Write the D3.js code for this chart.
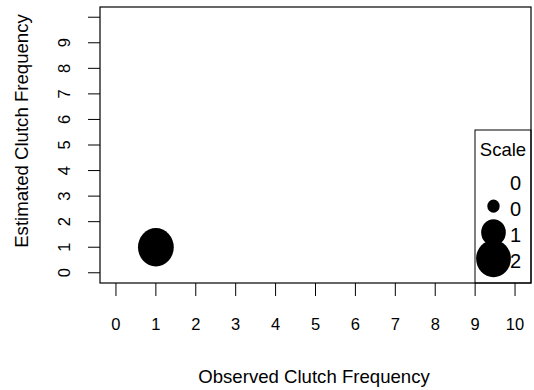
<!DOCTYPE html>
<html>
<head>
<meta charset="utf-8">
<script src="https://cdn.jsdelivr.net/npm/d3@7"></script>
<style>
  html, body { margin: 0; padding: 0; background: #fff; }
  svg { display: block; font-family: "Liberation Sans", Arial, Helvetica, sans-serif; }
</style>
</head>
<body>
<script>
// ---- data ----
const observed = [1];
const estimated = [1];
const counts = [2];
const xTicks = [0, 1, 2, 3, 4, 5, 6, 7, 8, 9, 10];
const yTicks = [0, 1, 2, 3, 4, 5, 6, 7, 8, 9, 10];
const yTickLabels = ["0", "1", "2", "3", "4", "5", "6", "7", "8", "9", ""];
const legendValues = [0, 0.25, 1, 2];
const legendLabels = ["0", "0", "1", "2"];

const W = 534, H = 390;
const svg = d3.select("body").append("svg").attr("width", W).attr("height", H);

const x = d3.scaleLinear().domain([-0.4, 10.4]).range([100, 531]);
const y = d3.scaleLinear().domain([-0.4, 10.4]).range([283, 7]);
const r = d3.scaleSqrt().domain([0, 2]).range([0, 17.4]);
const aspect = 1.07;

// points
svg.append("g").selectAll("ellipse").data(observed).join("ellipse")
  .attr("cx", (d, i) => x(d))
  .attr("cy", (d, i) => y(estimated[i]))
  .attr("rx", (d, i) => r(counts[i]) + 0.5)
  .attr("ry", (d, i) => (r(counts[i]) + 0.5) * aspect)
  .attr("fill", "#000");

// x axis ticks
const xa = svg.append("g");
xa.selectAll("line").data(xTicks).join("line")
  .attr("x1", d => x(d)).attr("x2", d => x(d))
  .attr("y1", 283).attr("y2", 296)
  .attr("stroke", "#000").attr("stroke-width", 1);
xa.selectAll("text").data(xTicks).join("text")
  .attr("x", d => x(d)).attr("y", 330)
  .attr("text-anchor", "middle").attr("font-size", 16.5)
  .text(d => d);

// y axis ticks
const ya = svg.append("g");
ya.selectAll("line").data(yTicks).join("line")
  .attr("x1", 88).attr("x2", 100)
  .attr("y1", d => y(d)).attr("y2", d => y(d))
  .attr("stroke", "#000").attr("stroke-width", 1);
ya.selectAll("text").data(yTicks).join("text")
  .attr("transform", d => `translate(70,${y(d)}) rotate(-90)`)
  .attr("text-anchor", "middle").attr("font-size", 16.5)
  .text((d, i) => yTickLabels[i]);

// legend
const lg = svg.append("g");
lg.append("rect").attr("x", 475).attr("y", 130).attr("width", 56).attr("height", 153)
  .attr("fill", "#fff").attr("stroke", "#000").attr("stroke-width", 1);
lg.append("text").attr("x", 503).attr("y", 156).attr("text-anchor", "middle")
  .attr("font-size", 18.5).text("Scale");
const rowY = i => 180 + 26.2 * i;
lg.selectAll("ellipse").data(legendValues).join("ellipse")
  .attr("cx", 493.5).attr("cy", (d, i) => rowY(i))
  .attr("rx", d => r(d)).attr("ry", d => r(d) * aspect)
  .attr("fill", "#000");
lg.selectAll("text.lab").data(legendLabels).join("text").attr("class", "lab")
  .attr("x", 510).attr("y", (d, i) => rowY(i) + 9.5)
  .attr("font-size", 20).text(d => d);

// plot box
svg.append("rect").attr("x", 100).attr("y", 7).attr("width", 431).attr("height", 276)
  .attr("fill", "none").attr("stroke", "#000").attr("stroke-width", 1.2);

// axis titles
svg.append("text").attr("x", 314).attr("y", 383).attr("text-anchor", "middle")
  .attr("font-size", 18.6).text("Observed Clutch Frequency");
svg.append("text").attr("transform", "translate(28,131) rotate(-90)")
  .attr("text-anchor", "middle").attr("font-size", 18.6).text("Estimated Clutch Frequency");
</script>
</body>
</html>
